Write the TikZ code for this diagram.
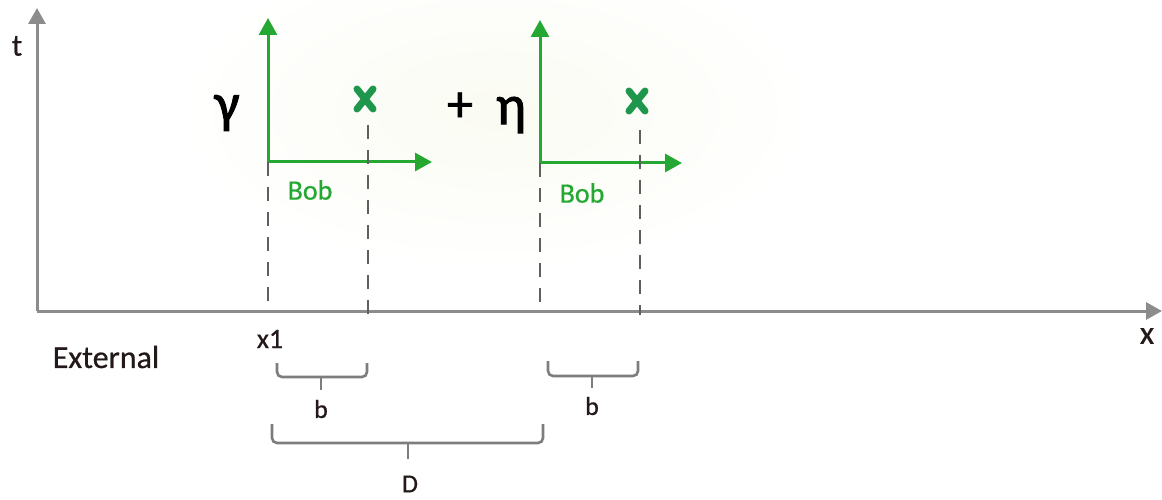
\documentclass[tikz,border=0pt]{standalone}
\usepackage{fontspec}
\setmainfont{Carlito}[FakeBold=0.6]
\newfontfamily\greekfont{Carlito}[FakeBold=1.6]
\usetikzlibrary{arrows.meta}
\definecolor{axisgray}{RGB}{140,140,140}
\definecolor{dashgray}{RGB}{95,95,95}
\definecolor{bracegray}{RGB}{125,125,125}
\definecolor{bobgreen}{RGB}{36,168,50}
\definecolor{markgreen}{RGB}{30,150,75}
\definecolor{txtdark}{RGB}{35,25,25}
\definecolor{glow}{RGB}{250,251,242}
\tikzset{
  axisline/.style={draw=axisgray,line width=3pt,-{Triangle[length=16pt,width=17pt]}},
  bobaxis/.style={draw=bobgreen,line width=3pt,-{Triangle[length=17pt,width=18pt]}},
  dropline/.style={draw=dashgray,line width=2.6pt,dash pattern=on 14pt off 11pt},
  bracepath/.style={draw=bracegray,line width=2.6pt,rounded corners=5pt},
  xmark/.style={draw=markgreen,line width=7pt,line cap=round},
  lbl/.style={inner sep=0pt,text=txtdark},
  boblbl/.style={inner sep=0pt,text=bobgreen,font=\fontsize{28}{30}\selectfont},
  greek/.style={inner sep=0pt,text=black,font=\greekfont\fontsize{56}{60}\selectfont},
}
\begin{document}
\begin{tikzpicture}[x=1pt,y=-1pt]
\useasboundingbox (0,0) rectangle (1162,500);
% faint background glow
\shade[inner color=glow,outer color=white] (495,110) ellipse [x radius=320,y radius=160];

% external axes
\coordinate (O) at (37,311);
\coordinate (tTip) at (37,8);
\coordinate (xTip) at (1162,311);
\draw[axisline] (O) -- (tTip);
\draw[axisline] (O) -- (xTip);
\node[lbl,font=\fontsize{31}{32}\selectfont] (tlabel) at (17,46) {t};
\node[lbl,font=\fontsize{33}{34}\selectfont] (xlabel) at (1147,336) {x};
\node[lbl,font=\fontsize{32}{34}\selectfont] (ext) at (106,357) {External};
\node[lbl,font=\fontsize{28}{30}\selectfont] (xone) at (270,339) {x1};

% Bob frame 1
\coordinate (B1) at (268,162);
\coordinate (B1t) at (268,18);
\coordinate (B1x) at (432,162);
\draw[bobaxis] (B1) -- (B1t);
\draw[bobaxis] (B1) -- (B1x);
\node[boblbl] (bob1) at (310,190) {Bob};
\node[greek] (gamma) at (227,113) {γ};
\node[inner sep=0pt] (m1) at (365,99) {};
\draw[xmark] ([shift={(-8,-10)}]m1.center) -- ([shift={(8,10)}]m1.center);
\draw[xmark] ([shift={(8,-10)}]m1.center) -- ([shift={(-8,10)}]m1.center);
\coordinate (d1top) at (368,125);
\coordinate (d1bot) at (368,314);
\coordinate (a1bot) at (268,311);
\draw[dropline] (B1) -- (a1bot);
\draw[dropline] (d1top) -- (d1bot);

% plus
\node[greek,font=\greekfont\fontsize{52}{56}\selectfont] (plus) at (460,107) {+};

% Bob frame 2
\coordinate (B2) at (540,163);
\coordinate (B2t) at (540,20);
\coordinate (B2x) at (682,163);
\draw[bobaxis] (B2) -- (B2t);
\draw[bobaxis] (B2) -- (B2x);
\node[boblbl] (bob2) at (582,193) {Bob};
\node[greek] (eta) at (511,115) {η};
\node[inner sep=0pt] (m2) at (637,101) {};
\draw[xmark] ([shift={(-8,-10)}]m2.center) -- ([shift={(8,10)}]m2.center);
\draw[xmark] ([shift={(8,-10)}]m2.center) -- ([shift={(-8,10)}]m2.center);
\coordinate (d2top) at (640,130);
\coordinate (d2bot) at (640,315);
\coordinate (a2bot) at (540,311);
\draw[dropline] (B2) -- (a2bot);
\draw[dropline] (d2top) -- (d2bot);

% braces
\coordinate (b1L) at (277,363);
\coordinate (b1R) at (367,363);
\coordinate (b1M) at (321,377);
\coordinate (b1T) at (321,390);
\draw[bracepath] (b1L) |- (b1M) -| (b1R);
\draw[draw=bracegray,line width=2.6pt] (b1M) -- (b1T);
\node[lbl,font=\fontsize{26}{28}\selectfont] (blab1) at (321,409) {b};

\coordinate (b2L) at (548,361);
\coordinate (b2R) at (638,361);
\coordinate (b2M) at (592,376);
\coordinate (b2T) at (592,388);
\draw[bracepath] (b2L) |- (b2M) -| (b2R);
\draw[draw=bracegray,line width=2.6pt] (b2M) -- (b2T);
\node[lbl,font=\fontsize{26}{28}\selectfont] (blab2) at (592,406) {b};

\coordinate (dL) at (272,424);
\coordinate (dR) at (543,424);
\coordinate (dM) at (408,443);
\coordinate (dT) at (408,459);
\draw[bracepath] (dL) |- (dM) -| (dR);
\draw[draw=bracegray,line width=2.6pt] (dM) -- (dT);
\node[lbl,font=\fontsize{26}{28}\selectfont] (Dlab) at (410,484) {D};
\end{tikzpicture}
\end{document}
